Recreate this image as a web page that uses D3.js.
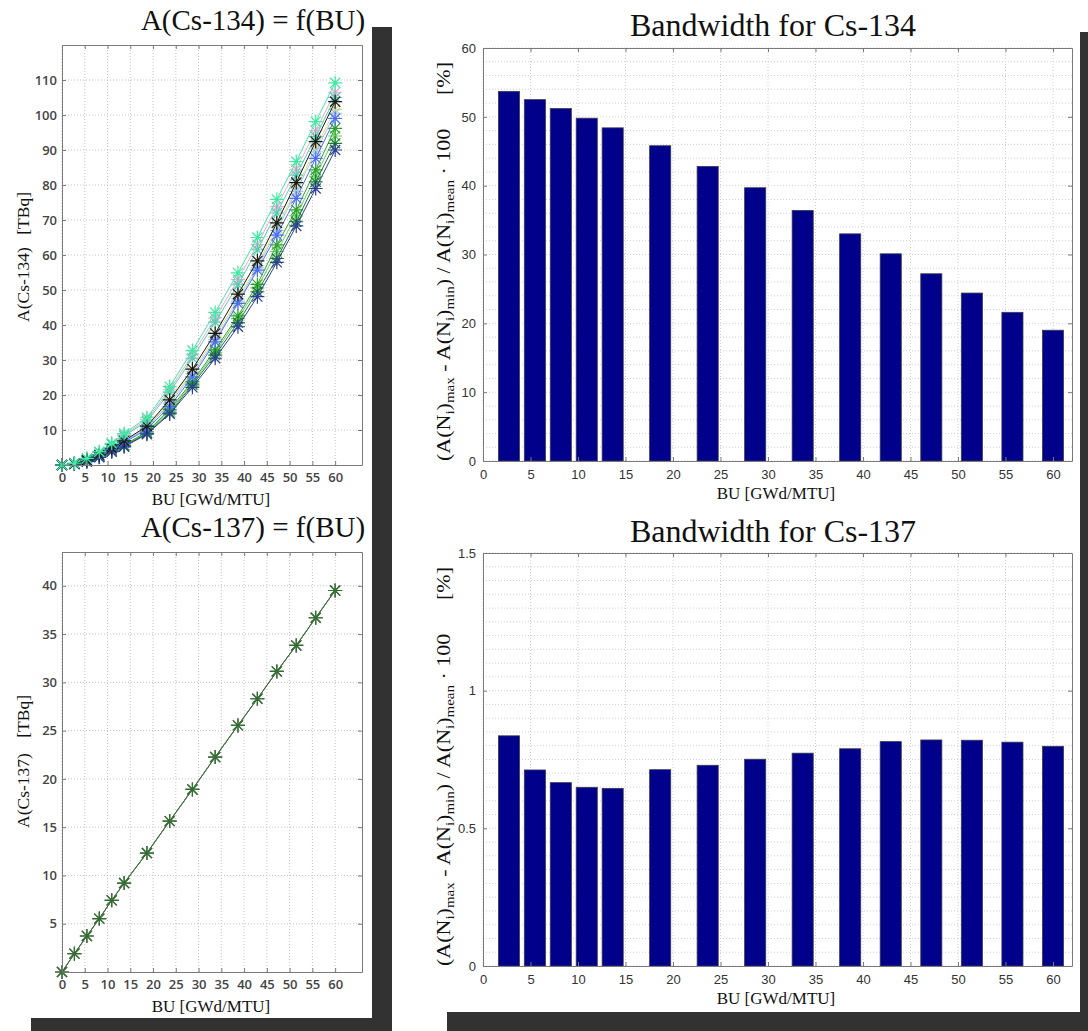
<!DOCTYPE html>
<html>
<head>
<meta charset="utf-8">
<script src="https://cdn.jsdelivr.net/npm/d3@7"></script>
<style>
body { margin: 0; background: #fff; }
svg { display: block; }
.serif { font-family: "Liberation Serif", "Times New Roman", serif; fill: #111; white-space: pre; }
.tickL text { font-family: "Open Sans", sans-serif; font-size: 13px; font-weight: 600; fill: #444; }
.tickR text { font-family: "Liberation Sans Narrow", "Liberation Sans", sans-serif; font-size: 13px; fill: #333; }
</style>
</head>
<body>
<svg id="fig" width="1088" height="1031"></svg>
<script>
// burnup steps [GWd/MTU]
var buSteps = [0, 2.73, 5.46, 8.19, 10.92, 13.65, 18.65, 23.65, 28.65, 33.65, 38.65, 42.92, 47.19, 51.46, 55.73, 60];
var xTicks = [0, 5, 10, 15, 20, 25, 30, 35, 40, 45, 50, 55, 60];

// Cs-134 activity [TBq], one list per case
var cs134Pink = [0, 0.5, 1.8, 3.7, 6.0, 8.6, 13.0, 21.5, 31.5, 42.0, 53.0, 63.0, 73.8, 84.5, 95.5, 106.5];
var cs134Yellow = [0, 0.4, 1.4, 2.8, 4.6, 6.7, 10.8, 18.0, 26.6, 36.6, 47.5, 57.0, 67.8, 79.0, 90.5, 101.6];
var cs134LightBlue = [0, 0.4, 1.3, 2.7, 4.5, 6.6, 10.6, 17.5, 26.0, 35.8, 46.8, 56.3, 67.0, 78.2, 89.5, 100.5];
var cs134Teal = [0, 0.5, 1.8, 3.6, 5.8, 8.3, 12.5, 20.8, 30.5, 40.8, 51.5, 61.5, 72.0, 82.8, 93.8, 105.0];
var cs134Lime = [0, 0.3, 1.1, 2.4, 4.0, 5.5, 9.2, 15.4, 23.3, 32.2, 41.8, 50.6, 61.0, 71.2, 82.5, 94.0];
var cs134Green = [0, 0.35, 1.2, 2.5, 4.1, 5.7, 9.5, 15.9, 23.8, 32.9, 42.6, 51.6, 62.9, 72.9, 84.3, 96.2];
var cs134DarkGreen = [0, 0.3, 1.0, 2.3, 3.9, 5.4, 9.0, 14.9, 22.9, 31.4, 40.7, 49.5, 59.0, 69.5, 80.9, 91.9];
var cs134Blue = [0, 0.35, 1.3, 2.6, 4.4, 6.4, 10.2, 16.7, 25.2, 35.2, 46.2, 55.7, 65.7, 76.2, 87.6, 99.0];
var cs134DarkBlue = [0, 0.3, 0.95, 2.2, 3.8, 5.2, 8.8, 14.6, 22.2, 30.5, 39.5, 48.1, 57.9, 68.3, 79.0, 90.0];
var cs134Black = [0, 0.4, 1.4, 2.9, 4.8, 6.9, 11.1, 18.6, 27.4, 37.6, 48.8, 58.3, 69.2, 80.7, 92.4, 103.8];
var cs134Aqua = [0, 0.5, 1.9, 3.8, 6.2, 9.0, 13.5, 22.4, 32.7, 43.6, 54.9, 65.0, 75.9, 86.7, 98.1, 109.2];

var cs134Series = [
  { values: cs134Pink, color: "#eaa6d6" },
  { values: cs134Yellow, color: "#e4df73" },
  { values: cs134LightBlue, color: "#9fc6ef" },
  { values: cs134Teal, color: "#52cfae" },
  { values: cs134Lime, color: "#62cf62" },
  { values: cs134Green, color: "#2ca02c" },
  { values: cs134DarkGreen, color: "#1f7a34" },
  { values: cs134Blue, color: "#4b6ff0" },
  { values: cs134DarkBlue, color: "#2b3f95" },
  { values: cs134Black, color: "#1a1a1a" },
  { values: cs134Aqua, color: "#3ceaa0" }
];

// Cs-137 activity [TBq] (all cases lie on top of each other)
var cs137Values = [0, 1.9, 3.73, 5.53, 7.42, 9.21, 12.32, 15.63, 18.91, 22.26, 25.54, 28.3, 31.13, 33.82, 36.69, 39.51];
var cs137Colors = ["#d77cb8", "#8fd48f", "#7a7a7a", "#2f6f2f"];

// bandwidth bars [%]
var barBU = [2.73, 5.46, 8.19, 10.92, 13.65, 18.65, 23.65, 28.65, 33.65, 38.65, 42.92, 47.19, 51.46, 55.73, 60];
var bandCs134 = [53.7, 52.5, 51.2, 49.8, 48.4, 45.8, 42.8, 39.7, 36.4, 33.0, 30.1, 27.2, 24.4, 21.6, 19.0];
var bandCs137 = [0.836, 0.712, 0.666, 0.649, 0.645, 0.713, 0.729, 0.751, 0.773, 0.789, 0.815, 0.821, 0.820, 0.813, 0.798];
var yTicks134 = [10, 20, 30, 40, 50, 60, 70, 80, 90, 100, 110];
var yTicks137 = [5, 10, 15, 20, 25, 30, 35, 40];
var yTicksBand134 = [0, 10, 20, 30, 40, 50, 60];
var yTicksBand137 = [0, 0.5, 1, 1.5];

var svg = d3.select("#fig");

// paper shadows behind the two figure columns
svg.append("rect").attr("x", 31).attr("y", 27).attr("width", 361).attr("height", 1004).attr("fill", "#323232");
svg.append("rect").attr("x", 0).attr("y", 0).attr("width", 372).attr("height", 1018).attr("fill", "#fff");
svg.append("rect").attr("x", 447).attr("y", 32).attr("width", 641).attr("height", 999).attr("fill", "#323232");
svg.append("rect").attr("x", 395).attr("y", 0).attr("width", 685).attr("height", 1012).attr("fill", "#fff");

function styleAxis(a, cls) {
  a.attr("class", cls);
  a.select(".domain").attr("stroke", "#7a7a7a");
  a.selectAll(".tick line").attr("stroke", "#7a7a7a");
}

function boxAxes(g, x, y, xt, yt, yFmt, cls, pad) {
  var x0 = x.range()[0], x1 = x.range()[1];
  var yb = y.range()[0], yt0 = y.range()[1];
  g.append("g").attr("transform", "translate(0," + yb + ")")
    .call(d3.axisBottom(x).tickValues(xt).tickSize(-4).tickSizeOuter(0).tickPadding(pad.x))
    .call(styleAxis, cls);
  g.append("g").attr("transform", "translate(0," + yt0 + ")")
    .call(d3.axisTop(x).tickValues(xt).tickSize(-4).tickSizeOuter(0).tickFormat(""))
    .call(styleAxis, cls);
  g.append("g").attr("transform", "translate(" + x0 + ",0)")
    .call(d3.axisLeft(y).tickValues(yt).tickSize(-4).tickSizeOuter(0).tickPadding(pad.y).tickFormat(yFmt))
    .call(styleAxis, cls);
  g.append("g").attr("transform", "translate(" + x1 + ",0)")
    .call(d3.axisRight(y).tickValues(yt).tickSize(-4).tickSizeOuter(0).tickFormat(""))
    .call(styleAxis, cls);
}

function gridLines(g, x, y, xt, yt, color) {
  g.append("g").selectAll("line").data(xt).join("line")
    .attr("x1", function(d) { return x(d); }).attr("x2", function(d) { return x(d); })
    .attr("y1", y.range()[0]).attr("y2", y.range()[1])
    .attr("stroke", color).attr("stroke-dasharray", "1,2");
  g.append("g").selectAll("line").data(yt).join("line")
    .attr("y1", function(d) { return y(d); }).attr("y2", function(d) { return y(d); })
    .attr("x1", x.range()[0]).attr("x2", x.range()[1])
    .attr("stroke", color).attr("stroke-dasharray", "1,2");
}

function starPath(cx, cy, r) {
  var d = r * 0.72;
  return "M" + (cx - r) + "," + cy + "H" + (cx + r) +
    "M" + cx + "," + (cy - r) + "V" + (cy + r) +
    "M" + (cx - d) + "," + (cy - d) + "L" + (cx + d) + "," + (cy + d) +
    "M" + (cx - d) + "," + (cy + d) + "L" + (cx + d) + "," + (cy - d);
}

function rotLabel(g, xPos, yStart, yEnd, first, unit, size) {
  g.append("text").attr("class", "serif")
    .attr("transform", "translate(" + xPos + "," + yStart + ") rotate(-90)")
    .style("font-size", size + "px").text(first);
  g.append("text").attr("class", "serif").attr("text-anchor", "end")
    .attr("transform", "translate(" + xPos + "," + yEnd + ") rotate(-90)")
    .style("font-size", size + "px").text(unit);
}

function lineChart(cfg) {
  var g = svg.append("g");
  var x = d3.scaleLinear().domain([0, 65.9]).range([62, 362]);
  var y = d3.scaleLinear().domain([0, cfg.yMax]).range([cfg.bottom, cfg.top]);
  gridLines(g, x, y, xTicks, cfg.yTicks, "#c4c4c4");

  var line = d3.line().x(function(d, i) { return x(buSteps[i]); }).y(function(d) { return y(d); });
  cfg.series.forEach(function(s) {
    g.append("path").datum(s.values).attr("d", line)
      .attr("fill", "none").attr("stroke", s.color).attr("stroke-width", 1);
    g.append("g").selectAll("path").data(s.values).join("path")
      .attr("d", function(d, i) { return starPath(x(buSteps[i]), y(d), 7); })
      .attr("stroke", s.color).attr("stroke-width", 1.2).attr("fill", "none");
  });

  boxAxes(g, x, y, xTicks, cfg.yTicks, function(d) { return d; }, "tickL", { x: 8, y: 5 });

  g.append("text").attr("class", "serif").attr("x", 253).attr("y", cfg.titleY)
    .attr("text-anchor", "middle").style("font-size", "29px").text(cfg.title);
  g.append("text").attr("class", "serif").attr("x", 211).attr("y", cfg.bottom + 40)
    .attr("text-anchor", "middle").style("font-size", "17px").text("BU [GWd/MTU]");
  rotLabel(g, 29, cfg.labelStart, cfg.labelEnd, cfg.yName, "[TBq]", 17.5);
}

function bandLabel(g, xPos, yStart, yEnd) {
  var t = g.append("text").attr("class", "serif")
    .attr("transform", "translate(" + xPos + "," + yStart + ") rotate(-90) scale(1,0.82)")
    .style("font-size", "22px");
  var parts = [["(A(N"], ["i", 1], [")"], ["max", 1], [" - A(N"], ["i", 1], [")"], ["min", 1],
    [") / A(N"], ["i", 1], [")"], ["mean", 1], [" \u00b7 100"]];
  var low = false;
  parts.forEach(function(p) {
    var ts = t.append("tspan").text(p[0]);
    if (p[1]) {
      ts.style("font-size", "15px");
      if (!low) ts.attr("dy", 5);
      low = true;
    } else if (low) {
      ts.attr("dy", -5);
      low = false;
    }
  });
  g.append("text").attr("class", "serif").attr("text-anchor", "end")
    .attr("transform", "translate(" + xPos + "," + yEnd + ") rotate(-90) scale(1,0.82)")
    .style("font-size", "22px").text("[%]");
}

function barChart(cfg) {
  var g = svg.append("g");
  var x = d3.scaleLinear().domain([0, 62]).range([483, 1072]);
  var y = d3.scaleLinear().domain([0, cfg.yMax]).range([cfg.bottom, cfg.top]);
  gridLines(g, x, y, xTicks, cfg.minor, "#d0d0d0");
  var bw = x(2.22) - x(0);
  g.append("g").selectAll("rect").data(cfg.values).join("rect")
    .attr("x", function(d, i) { return x(barBU[i]) - bw / 2; })
    .attr("y", function(d) { return y(d); })
    .attr("width", bw)
    .attr("height", function(d) { return y(0) - y(d); })
    .attr("fill", "#00008a").attr("stroke", "#3a3a50").attr("stroke-width", 0.8);

  boxAxes(g, x, y, xTicks, cfg.yTicks, function(d) { return d; }, "tickR", { x: 9, y: 7 });

  g.append("text").attr("class", "serif").attr("x", 773).attr("y", cfg.titleY)
    .attr("text-anchor", "middle").style("font-size", "32px").text(cfg.title);
  g.append("text").attr("class", "serif").attr("x", 776).attr("y", cfg.bottom + 38)
    .attr("text-anchor", "middle").style("font-size", "17px").text("BU [GWd/MTU]");
  bandLabel(g, 450, cfg.bottom, cfg.top + 14);
}

lineChart({
  title: "A(Cs-134) = f(BU)", titleY: 30, top: 45, bottom: 465, yMax: 120,
  yTicks: yTicks134, series: cs134Series, yName: "A(Cs-134)", labelStart: 322, labelEnd: 192
});

lineChart({
  title: "A(Cs-137) = f(BU)", titleY: 537, top: 552, bottom: 972, yMax: 43.5,
  yTicks: yTicks137,
  series: cs137Colors.map(function(c) { return { values: cs137Values, color: c }; }),
  yName: "A(Cs-137)", labelStart: 828, labelEnd: 695
});

barChart({
  title: "Bandwidth for Cs-134", titleY: 36, top: 48, bottom: 461, yMax: 60,
  yTicks: yTicksBand134, minor: d3.range(0, 60.01, 2), values: bandCs134
});

barChart({
  title: "Bandwidth for Cs-137", titleY: 542, top: 553, bottom: 966, yMax: 1.5,
  yTicks: yTicksBand137, minor: d3.range(0, 1.501, 0.05), values: bandCs137
});
</script>
</body>
</html>
